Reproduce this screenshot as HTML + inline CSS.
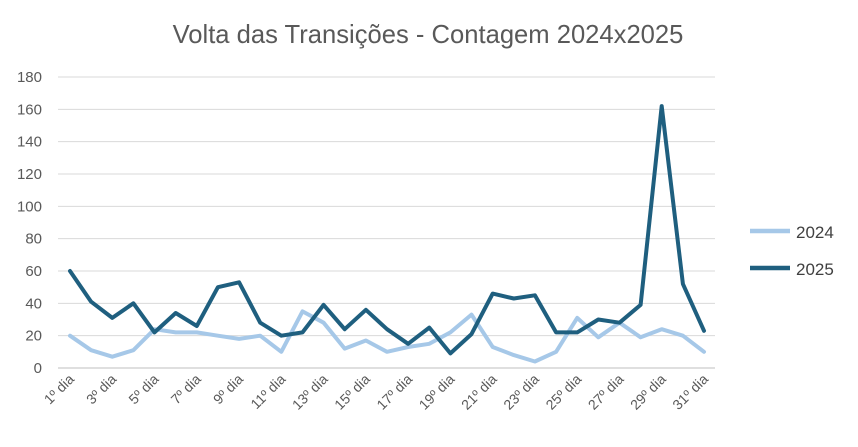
<!DOCTYPE html>
<html><head><meta charset="utf-8"><style>
html,body{margin:0;padding:0;background:#fff;}
svg{display:block;font-family:"Liberation Sans",sans-serif;}
</style></head><body>
<svg id="c" width="858" height="447" xmlns="http://www.w3.org/2000/svg">
<text x="428" y="43" text-anchor="middle" font-size="25.6" fill="#595959">Volta das Transições - Contagem 2024x2025</text>
<g id="g"></g>
<line x1="750" y1="231" x2="790" y2="231" stroke="#a6c8e8" stroke-width="4.5"/>
<text x="796" y="238" font-size="17" fill="#404040">2024</text>
<line x1="750" y1="268" x2="790" y2="268" stroke="#1f5f7f" stroke-width="4.5"/>
<text x="796" y="275" font-size="17" fill="#404040">2025</text>
</svg>
<script>
var a=[20,11,7,11,24,22,22,20,18,20,10,35,28,12,17,10,13,15,22,33,13,8,4,10,31,19,28,19,24,20,10];
var b=[60,41,31,40,22,34,26,50,53,28,20,22,39,24,36,24,15,25,9,21,46,43,45,22,22,30,28,39,162,52,23];
var y0=368,sc=(368-77)/180,x0=70,dx=(704-70)/30;
var s='';
for(var v=0;v<=180;v+=20){var y=y0-v*sc;
s+='<line x1="58" x2="715" y1="'+y+'" y2="'+y+'" stroke="'+(v?'#d9d9d9':'#bfbfbf')+'" stroke-width="1"/>';
s+='<text x="42" y="'+(y+5)+'" text-anchor="end" font-size="15" fill="#595959">'+v+'</text>';}
for(var i=0;i<31;i+=2){var x=x0+i*dx;
s+='<text transform="translate('+(x+5)+',380) rotate(-45)" text-anchor="end" font-size="14" fill="#595959">'+(i+1)+'º dia</text>';}
function p(d,c){var q=d.map(function(v,i){return (x0+i*dx).toFixed(1)+','+(y0-v*sc).toFixed(1)}).join(' ');
return '<polyline points="'+q+'" fill="none" stroke="'+c+'" stroke-width="4" stroke-linejoin="round" stroke-linecap="round"/>';}
s+=p(a,'#a6c8e8')+p(b,'#1f5f7f');
document.getElementById('g').innerHTML=s;
</script>
</body></html>
